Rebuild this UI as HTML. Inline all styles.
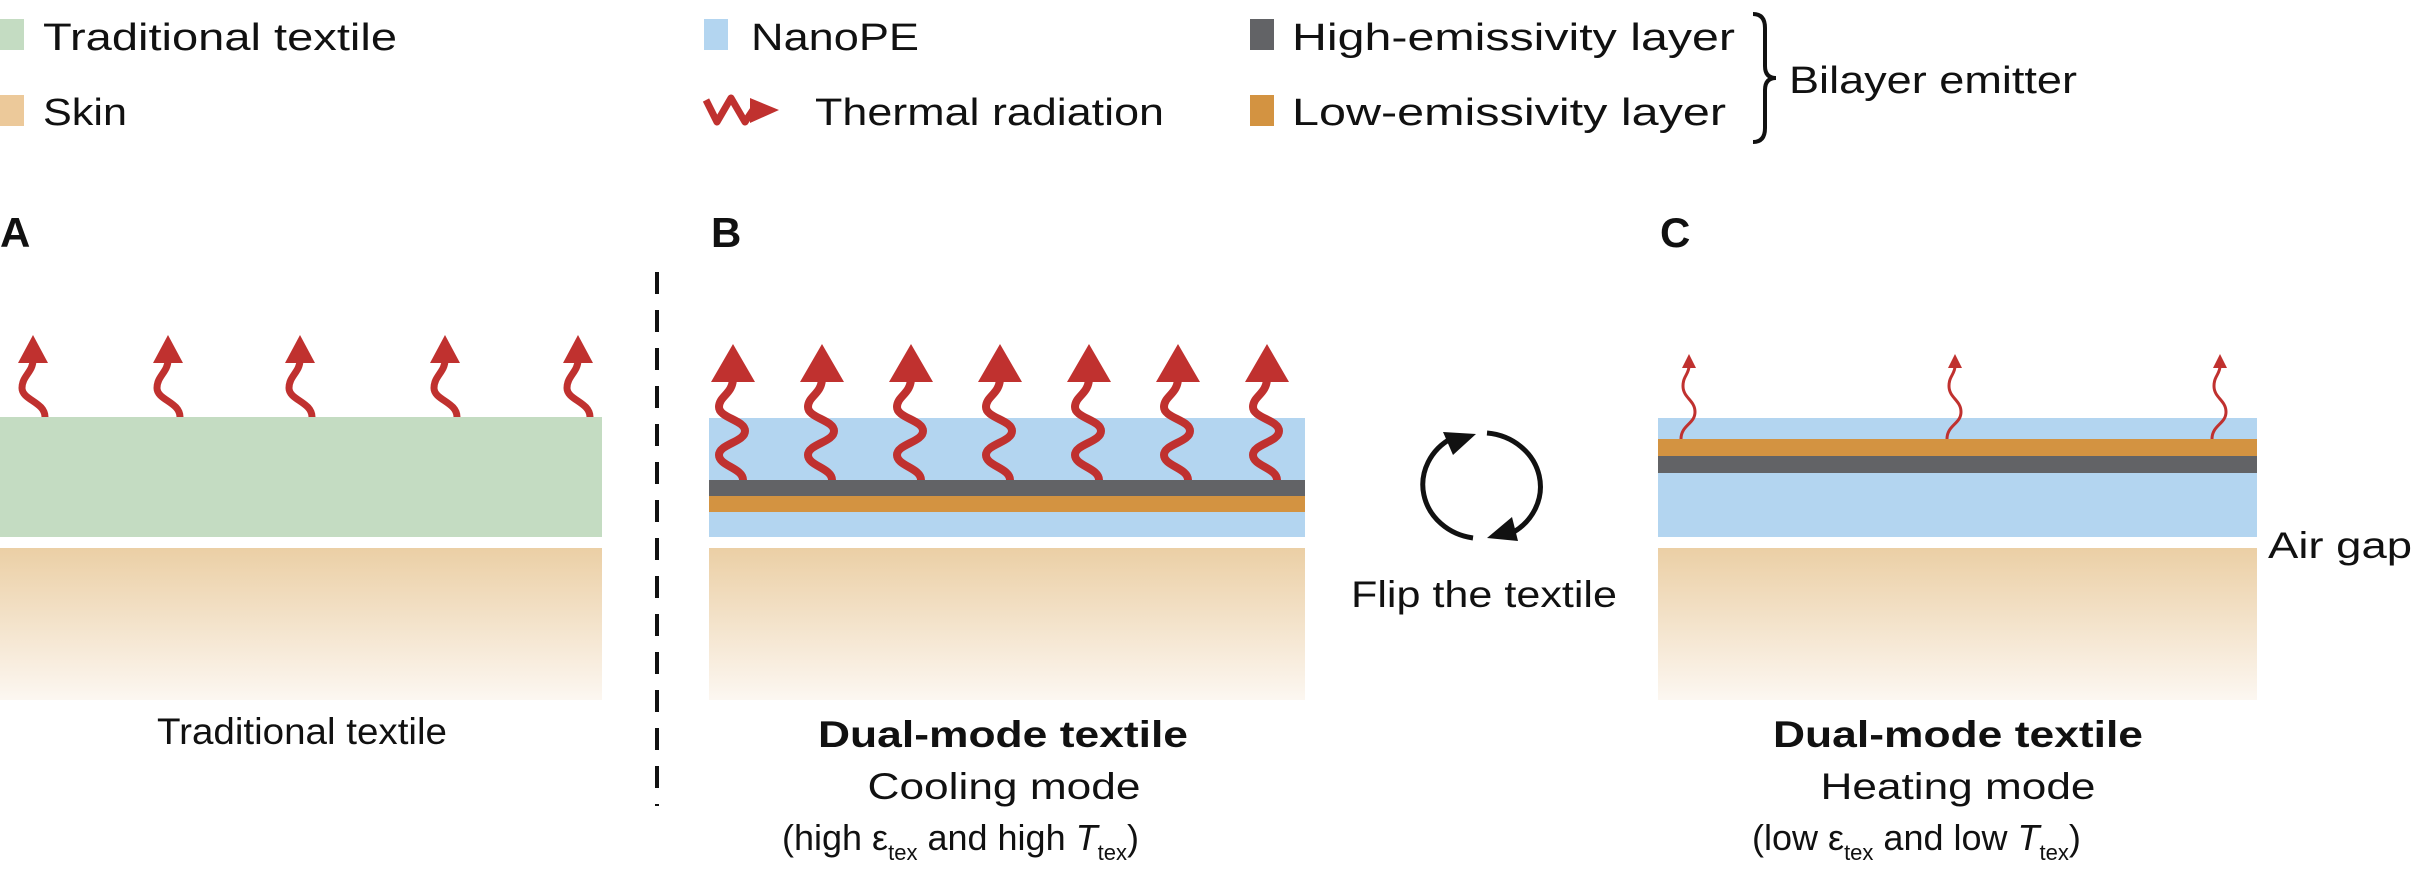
<!DOCTYPE html>
<html><head><meta charset="utf-8"><style>
html,body{margin:0;padding:0;background:#fff;}
svg{display:block;}
text{font-family:"Liberation Sans",Arial,sans-serif;fill:#111;}
</style></head><body>
<svg width="2412" height="882" viewBox="0 0 2412 882" xmlns="http://www.w3.org/2000/svg">
<defs>
<linearGradient id="skin" x1="0" y1="0" x2="0" y2="1">
<stop offset="0" stop-color="#ebcfa5"/><stop offset="1" stop-color="#fcf7f1"/>
</linearGradient>
</defs>
<!-- Legend -->
<rect x="0" y="19" width="24" height="31" fill="#c4dcc2"/>
<text x="43" y="50" font-size="38" textLength="354" lengthAdjust="spacingAndGlyphs">Traditional textile</text>
<rect x="0" y="95" width="24" height="31" fill="#ecc99a"/>
<text x="43" y="125" font-size="38" textLength="84" lengthAdjust="spacingAndGlyphs">Skin</text>
<rect x="704" y="19" width="24" height="31" fill="#b3d5f0"/>
<text x="751" y="50" font-size="38" textLength="168" lengthAdjust="spacingAndGlyphs">NanoPE</text>
<path d="M706 100 L717 122 L731 98 L745 122 L753 110" fill="none" stroke="#c0312f" stroke-width="7" stroke-linejoin="round"/>
<polygon points="750,98 779,110 750,123" fill="#c0312f"/>
<text x="815" y="125" font-size="38" textLength="349" lengthAdjust="spacingAndGlyphs">Thermal radiation</text>
<rect x="1250" y="19" width="24" height="31" fill="#626366"/>
<text x="1292" y="50" font-size="38" textLength="443" lengthAdjust="spacingAndGlyphs">High-emissivity layer</text>
<rect x="1250" y="95" width="24" height="31" fill="#d39341"/>
<text x="1292" y="125" font-size="38" textLength="434" lengthAdjust="spacingAndGlyphs">Low-emissivity layer</text>
<path d="M1753 14 Q1765 14 1765 28 L1765 66 Q1765 78 1776 78 Q1765 78 1765 90 L1765 128 Q1765 142 1753 142" fill="none" stroke="#111" stroke-width="4"/>
<text x="1789" y="93" font-size="38" textLength="288" lengthAdjust="spacingAndGlyphs">Bilayer emitter</text>

<!-- Panel labels -->
<text x="0" y="247" font-size="42" font-weight="bold">A</text>
<text x="711" y="247" font-size="42" font-weight="bold">B</text>
<text x="1660" y="247" font-size="42" font-weight="bold">C</text>

<!-- Panel A -->
<rect x="0" y="417" width="602" height="120" fill="#c4dcc2"/>
<rect x="0" y="548" width="602" height="152" fill="url(#skin)"/>
<g fill="none" stroke="#c0312f" stroke-width="7">
<path d="M45 417 C45 402 22 400 22 388 C22 376 33 372 33 360"/>
<path d="M180 417 C180 402 157 400 157 388 C157 376 168 372 168 360"/>
<path d="M312 417 C312 402 289 400 289 388 C289 376 300 372 300 360"/>
<path d="M457 417 C457 402 434 400 434 388 C434 376 445 372 445 360"/>
<path d="M590 417 C590 402 567 400 567 388 C567 376 578 372 578 360"/>
</g>
<g fill="#c0312f">
<polygon points="33,335 18,363 48,363"/>
<polygon points="168,335 153,363 183,363"/>
<polygon points="300,335 285,363 315,363"/>
<polygon points="445,335 430,363 460,363"/>
<polygon points="578,335 563,363 593,363"/>
</g>
<text x="302" y="744" font-size="37" text-anchor="middle" textLength="290" lengthAdjust="spacingAndGlyphs">Traditional textile</text>

<!-- Dashed divider -->
<line x1="657" y1="272" x2="657" y2="806" stroke="#111" stroke-width="4" stroke-dasharray="22 16"/>

<!-- Panel B -->
<rect x="709" y="418" width="596" height="119" fill="#b3d5f0"/>
<rect x="709" y="480" width="596" height="16" fill="#626366"/>
<rect x="709" y="496" width="596" height="16" fill="#d39341"/>
<rect x="709" y="548" width="596" height="152" fill="url(#skin)"/>
<g fill="none" stroke="#c0312f" stroke-width="8">
<path d="M743 480 C743 468 719 466 719 455 C719 444 745 442 745 431 C745 420 719 418 719 407 C719 396 733 394 733 378"/>
<path d="M832 480 C832 468 808 466 808 455 C808 444 834 442 834 431 C834 420 808 418 808 407 C808 396 822 394 822 378"/>
<path d="M921 480 C921 468 897 466 897 455 C897 444 923 442 923 431 C923 420 897 418 897 407 C897 396 911 394 911 378"/>
<path d="M1010 480 C1010 468 986 466 986 455 C986 444 1012 442 1012 431 C1012 420 986 418 986 407 C986 396 1000 394 1000 378"/>
<path d="M1099 480 C1099 468 1075 466 1075 455 C1075 444 1101 442 1101 431 C1101 420 1075 418 1075 407 C1075 396 1089 394 1089 378"/>
<path d="M1188 480 C1188 468 1164 466 1164 455 C1164 444 1190 442 1190 431 C1190 420 1164 418 1164 407 C1164 396 1178 394 1178 378"/>
<path d="M1277 480 C1277 468 1253 466 1253 455 C1253 444 1279 442 1279 431 C1279 420 1253 418 1253 407 C1253 396 1267 394 1267 378"/>
</g>
<g fill="#c0312f">
<polygon points="733,344 711,382 755,382"/>
<polygon points="822,344 800,382 844,382"/>
<polygon points="911,344 889,382 933,382"/>
<polygon points="1000,344 978,382 1022,382"/>
<polygon points="1089,344 1067,382 1111,382"/>
<polygon points="1178,344 1156,382 1200,382"/>
<polygon points="1267,344 1245,382 1289,382"/>
</g>
<text x="1003" y="747" font-size="37" font-weight="bold" text-anchor="middle" textLength="370" lengthAdjust="spacingAndGlyphs">Dual-mode textile</text>
<text x="1004" y="799" font-size="37" text-anchor="middle" textLength="273" lengthAdjust="spacingAndGlyphs">Cooling mode</text>
<text x="782" y="850" font-size="36">(high ε<tspan font-size="22" dy="10">tex</tspan><tspan dy="-10"> and high </tspan><tspan font-style="italic">T</tspan><tspan font-size="22" dy="10">tex</tspan><tspan dy="-10">)</tspan></text>

<!-- Flip icon -->
<g fill="none" stroke="#111" stroke-width="5">
<path d="M1473 538 A59 54 0 0 1 1452 438"/>
<path d="M1487 433 A59 54 0 0 1 1510 534"/>
</g>
<polygon points="1476,434 1443,432 1453,455" fill="#111"/>
<polygon points="1487,538 1518,541 1512,517" fill="#111"/>
<text x="1484" y="607" font-size="37" text-anchor="middle" textLength="266" lengthAdjust="spacingAndGlyphs">Flip the textile</text>

<!-- Panel C -->
<rect x="1658" y="418" width="599" height="119" fill="#b3d5f0"/>
<rect x="1658" y="439" width="599" height="17" fill="#d39341"/>
<rect x="1658" y="456" width="599" height="17" fill="#626366"/>
<rect x="1658" y="548" width="599" height="152" fill="url(#skin)"/>
<g fill="none" stroke="#c0312f" stroke-width="3">
<path d="M1681 439 C1681 425 1695 424 1695 412 C1695 400 1683 398 1683 386 C1683 376 1689 374 1689 366"/>
<path d="M1947 439 C1947 425 1961 424 1961 412 C1961 400 1949 398 1949 386 C1949 376 1955 374 1955 366"/>
<path d="M2212 439 C2212 425 2226 424 2226 412 C2226 400 2214 398 2214 386 C2214 376 2220 374 2220 366"/>
</g>
<g fill="#c0312f">
<polygon points="1689,354 1682,368 1696,368"/>
<polygon points="1955,354 1948,368 1962,368"/>
<polygon points="2220,354 2213,368 2227,368"/>
</g>
<text x="2268" y="558" font-size="37" textLength="144" lengthAdjust="spacingAndGlyphs">Air gap</text>
<text x="1958" y="747" font-size="37" font-weight="bold" text-anchor="middle" textLength="370" lengthAdjust="spacingAndGlyphs">Dual-mode textile</text>
<text x="1958" y="799" font-size="37" text-anchor="middle" textLength="275" lengthAdjust="spacingAndGlyphs">Heating mode</text>
<text x="1752" y="850" font-size="36">(low ε<tspan font-size="22" dy="10">tex</tspan><tspan dy="-10"> and low </tspan><tspan font-style="italic">T</tspan><tspan font-size="22" dy="10">tex</tspan><tspan dy="-10">)</tspan></text>
</svg>
</body></html>
